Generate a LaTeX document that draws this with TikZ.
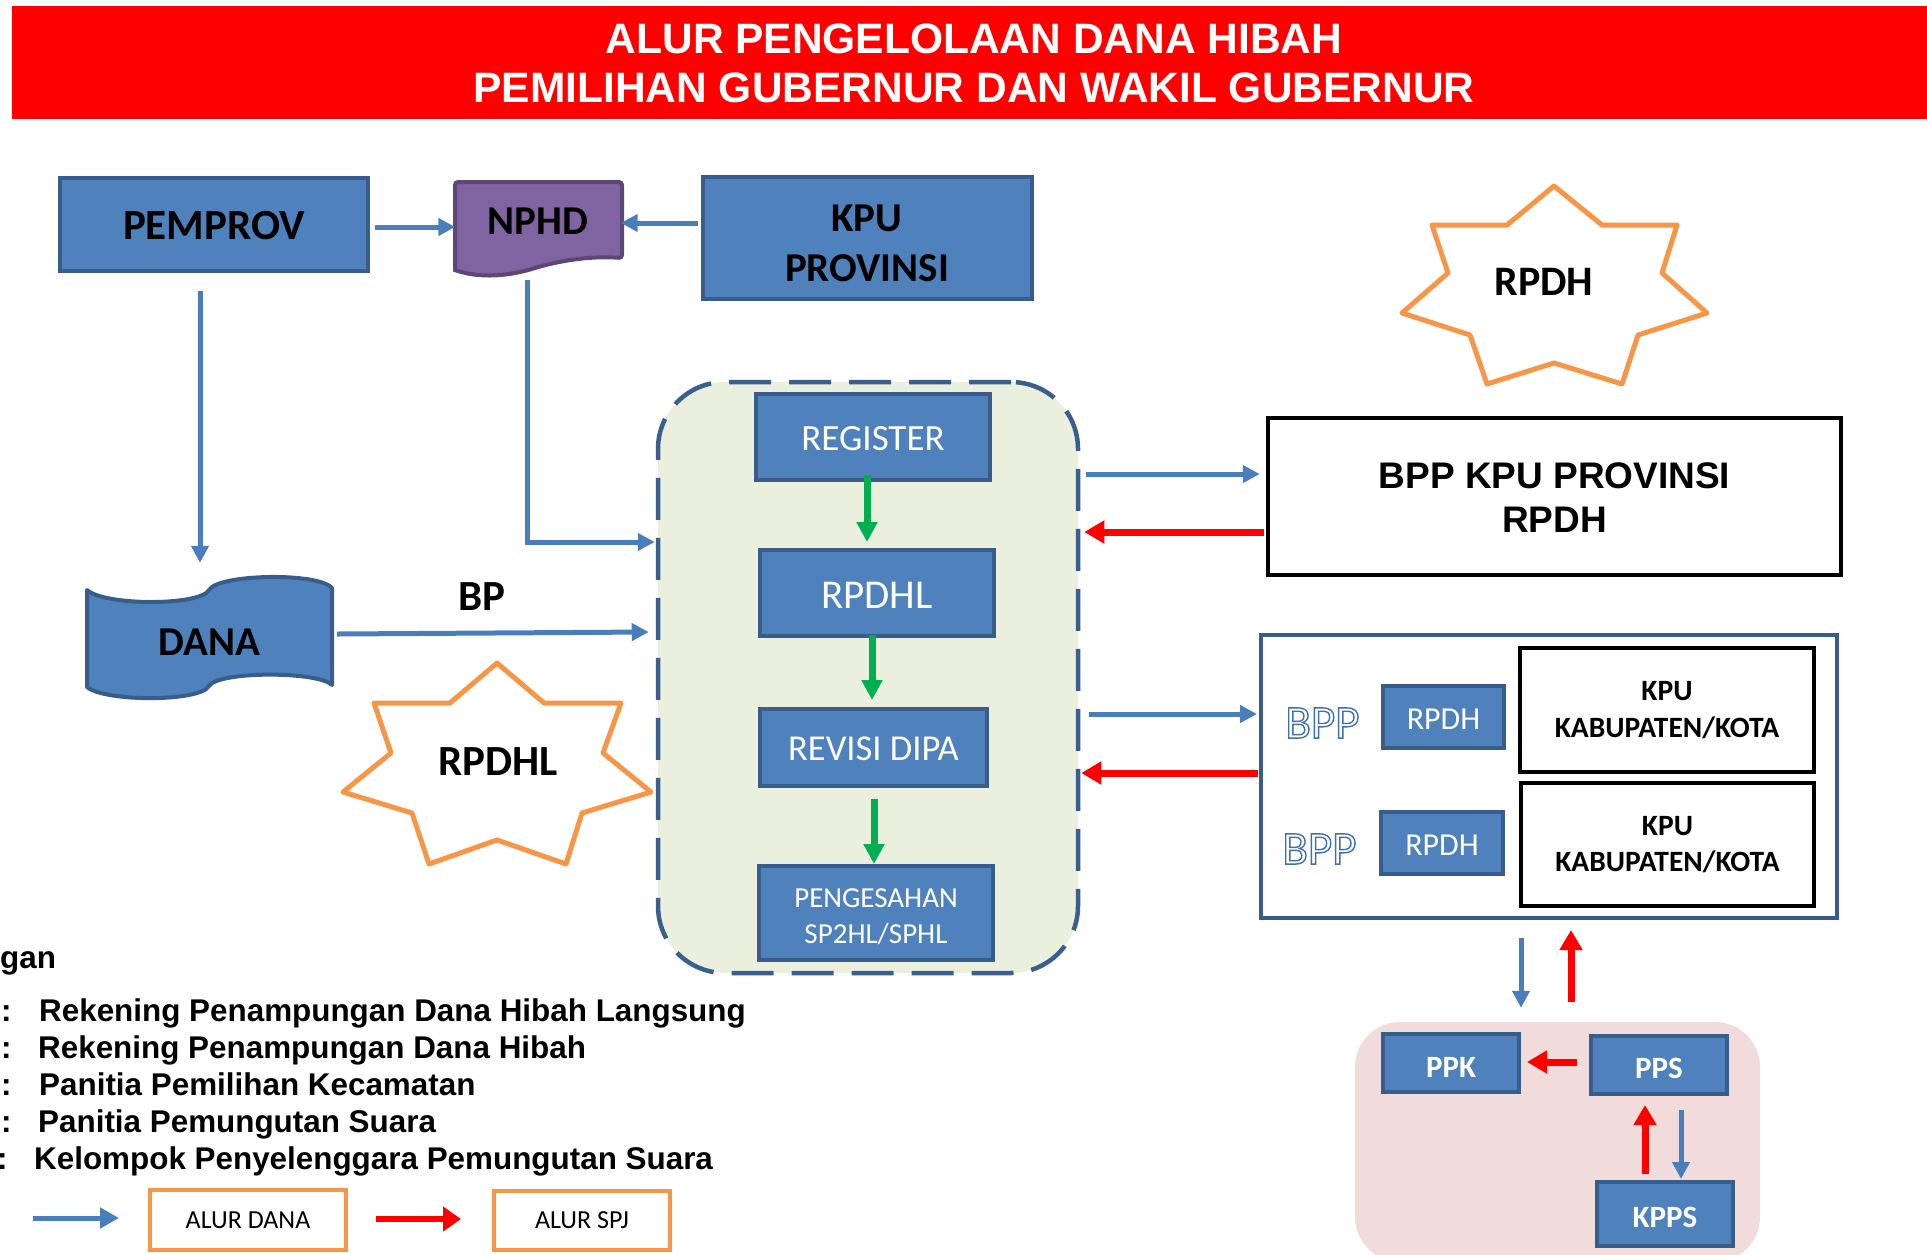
\documentclass[tikz,border=0pt]{standalone}
\usepackage{fontspec}
\setmainfont{Carlito}
\newfontfamily\arialf{Liberation Sans}
\usetikzlibrary{arrows.meta}
\definecolor{bfill}{HTML}{4F81BD}
\definecolor{bdr}{HTML}{385D8A}
\definecolor{arrblue}{HTML}{4A7EBB}
\definecolor{gfill}{HTML}{EBF0DE}
\definecolor{pfill}{HTML}{F2DCDB}
\definecolor{npfill}{HTML}{8064A2}
\definecolor{npdr}{HTML}{5C4776}
\definecolor{orng}{HTML}{F79646}
\definecolor{grn}{HTML}{00B050}
\definecolor{dashc}{HTML}{3A5F8E}
\definecolor{bppc}{HTML}{3F6FAE}
\newcommand\fsz[2]{\fontsize{#1}{#2}\selectfont}
\newcommand\outl[1]{\special{pdf:code 1 Tr 1.4 w}#1\special{pdf:code 0 Tr}}
\begin{document}
\begin{tikzpicture}[x=1pt,y=-1pt,
  bluebox/.style={draw=bdr, fill=bfill, line width=4pt, inner sep=0pt, text=white, align=center},
  blackbox/.style={draw=black, line width=4.5pt, inner sep=0pt, align=center},
  bluearr/.style={draw=arrblue, line width=5pt, -{Triangle[length=17pt,width=17pt]}},
  redarr/.style={draw=red, line width=7pt, -{Triangle[length=20pt,width=22pt]}},
  greenarr/.style={draw=grn, line width=7pt, -{Triangle[length=20pt,width=20pt]}},
  starshape/.style={draw=orng, line width=5pt, line join=round, fill=white},
  orbox/.style={draw=orng, line width=4pt, inner sep=0pt},
  legtxt/.style={anchor=base west, inner sep=0pt, font=\arialf\bfseries\fsz{31.4}{36}}
]
\useasboundingbox (0,0) rectangle (1927,1254);

% title
\node[fill=red, minimum width=1915pt, minimum height=113pt, anchor=north west, inner sep=0pt] (titlebar) at (12,6) {};
\node[text=white, align=center, font=\arialf\bfseries\fsz{42.5}{49}] (title) at (974,63.5)
  {ALUR PENGELOLAAN DANA HIBAH\\PEMILIHAN GUBERNUR DAN WAKIL GUBERNUR};

% top row
\node[bluebox, text=black, minimum width=308pt, minimum height=93pt, text height=31pt, font=\bfseries\fsz{43}{48}] (pem) at (214,224) {PEMPROV};
\node[bluebox, minimum width=329pt, minimum height=122pt] (kpu) at (867,238) {};
\node[align=center, inner sep=0pt, font=\bfseries\fsz{41}{50}] (kputxt) at ([yshift=-5pt]kpu.center) {KPU\\PROVINSI};
\draw[fill=npfill, draw=npdr, line width=4pt, rounded corners=3pt]
  (455,270) -- (455,182) -- (622,182) -- (622,258) [sharp corners]
  .. controls (595,256) and (565,259) .. (535,268)
  .. controls (510,276) and (480,279) .. (455,270) -- cycle;
\node[minimum width=165pt, minimum height=78pt, inner sep=0pt, font=\bfseries\fsz{41}{45}] (nphd) at (538,221) {NPHD};

\draw[bluearr] ([shift={(5pt,-3pt)}]pem.east) -- ([yshift=-6pt]nphd.west);
\draw[bluearr] ([shift={(-2.5pt,15pt)}]kpu.west) -- ([yshift=-2pt]nphd.east);

% DANA
\draw[fill=bfill, draw=bdr, line width=4pt, line join=round]
  (87,590) .. controls (105,606) and (200,606) .. (209,590)
  .. controls (218,574) and (318,572) .. (332,588) -- (332,685)
  .. controls (318,671) and (218,671) .. (209,686)
  .. controls (200,702) and (105,702) .. (87,687) -- cycle;
\node[minimum width=245pt, minimum height=110pt, inner sep=0pt, text height=30pt, font=\bfseries\fsz{41}{45}] (dana) at (209.5,640) {DANA};
\draw[bluearr] ([shift={(-14pt,-18.5pt)}]pem.south) -- ([shift={(-9.5pt,22pt)}]dana.north);

% container
\node[draw=dashc, fill=gfill, line width=4.5pt, dash pattern=on 42pt off 18pt, rounded corners=67pt,
  minimum width=420pt, minimum height=591pt, inner sep=0pt] (cont) at (868,677.5) {};
\node[bluebox, minimum width=234pt, minimum height=86pt, text height=27pt, font=\fsz{37}{40}] (reg) at (873,437) {REGISTER};
\node[bluebox, minimum width=234pt, minimum height=86pt, text height=30pt, font=\fsz{41}{44}] (rpdhl) at (877,593) {RPDHL};
\node[bluebox, minimum width=227pt, minimum height=77pt, text height=27pt, font=\fsz{36.5}{40}] (rev) at (873.5,747.5) {REVISI DIPA};
\node[bluebox, minimum width=234pt, minimum height=94pt, font=\fsz{29}{36}] (peng) at (876,913) {};
\node[align=center, inner sep=0pt, text=white, font=\fsz{29}{36}] (pengtxt) at ([yshift=-4pt]peng.center) {PENGESAHAN\\SP2HL/SPHL};
\draw[greenarr] ([shift={(-6pt,7pt)}]reg.south) -- ([shift={(-10pt,6pt)}]rpdhl.north);
\draw[greenarr] ([shift={(-5pt,3pt)}]rpdhl.south) -- ([shift={(-1.5pt,7pt)}]rev.north);
\draw[greenarr] ([shift={(0.5pt,-11pt)}]rev.south) -- ([xshift=-2pt]peng.north);

\draw[bluearr] ([shift={(-11pt,-20pt)}]nphd.south) |- ([shift={(-1pt,135.5pt)}]cont.west);
\draw[bluearr] ([shift={(5pt,6pt)}]dana.east) -- ([shift={(-7pt,45.5pt)}]cont.west);
\node[font=\bfseries\fsz{43}{46}] (bp) at (482,597) {BP};

% RPDHL star
\draw[starshape] (497,663) -- (544,703) -- (621,703) -- (603,753) -- (651,792) -- (582,813) -- (566,864)
  -- (497,840) -- (429,864) -- (412,813) -- (343,792) -- (391,753) -- (374,703) -- (450,703) -- cycle;
\node[font=\bfseries\fsz{43}{46}] (rpdhlstar) at (498,762) {RPDHL};

% RPDH star
\draw[starshape] (1554,186) -- (1602,225) -- (1677,225) -- (1662,273) -- (1707,313) -- (1638,335) -- (1622,384)
  -- (1554,363) -- (1487,384) -- (1470,335) -- (1402,313) -- (1448,273) -- (1432,225) -- (1507,225) -- cycle;
\node[font=\bfseries\fsz{42}{46}] (rpdhstar) at (1544,282) {RPDH};

% BPP KPU provinsi
\node[blackbox, minimum width=573pt, minimum height=157pt] (bpp) at (1554.5,496.5) {};
\node[align=center, inner sep=0pt, font=\arialf\bfseries\fsz{37}{44}] (bpptxt) at ([yshift=-1pt]bpp.center) {BPP KPU PROVINSI\\RPDH};
\draw[bluearr] ([shift={(6pt,203.5pt)}]cont.east) -- ([shift={(-6pt,22.5pt)}]bpp.west);
\draw[redarr] ([shift={(-2pt,-35.5pt)}]bpp.west) -- ([shift={(4pt,145.5pt)}]cont.east);

% kabupaten group
\node[draw=bdr, line width=4pt, minimum width=576pt, minimum height=283pt, inner sep=0pt] (kab) at (1549,776.5) {};
\node[bluebox, minimum width=121pt, minimum height=62pt, text height=24pt, font=\fsz{32}{34}] (rb1) at (1443.5,717) {RPDH};
\node[bluebox, minimum width=122pt, minimum height=62pt, text height=24pt, font=\fsz{32}{34}] (rb2) at (1442,843) {RPDH};
\node[blackbox, minimum width=294pt, minimum height=124pt, font=\bfseries\fsz{29.5}{37}] (kk1) at (1667,710) {KPU\\KABUPATEN/KOTA};
\node[blackbox, minimum width=293pt, minimum height=123pt, font=\bfseries\fsz{29.5}{36}] (kk2) at (1667.5,844.5) {KPU\\KABUPATEN/KOTA};
\node[text=bppc, inner sep=0pt, font=\fsz{47}{49}] (bppt1) at (1322.5,723) {\outl{BPP}};
\node[text=bppc, inner sep=0pt, font=\fsz{47}{49}] (bppt2) at (1319.5,849) {\outl{BPP}};
\draw[bluearr] ([shift={(9pt,-36.5pt)}]cont.east) -- ([shift={(-2pt,62.5pt)}]kab.west);
\draw[redarr] ([shift={(-1pt,3.5pt)}]kab.west) -- ([shift={(1pt,-95.5pt)}]cont.east);

% pink group
\node[fill=pfill, rounded corners=45pt, minimum width=405pt, minimum height=240pt, inner sep=0pt] (pink) at (1557.5,1142) {};
\node[bluebox, minimum width=136pt, minimum height=58pt, text height=28pt, font=\bfseries\fsz{31}{34}] (ppk) at (1451,1063) {PPK};
\node[bluebox, minimum width=136pt, minimum height=58pt, text height=28pt, font=\bfseries\fsz{31}{34}] (pps) at (1659,1065) {PPS};
\node[bluebox, minimum width=136pt, minimum height=64pt, text height=27pt, font=\bfseries\fsz{31}{34}] (kpps) at (1665,1214) {KPPS};
\draw[bluearr] ([shift={(-28pt,-18pt)}]kab.south) -- ([shift={(-36.5pt,14pt)}]pink.north);
\draw[redarr] ([shift={(13.5pt,20pt)}]pink.north) -- ([shift={(22pt,-10pt)}]kab.south);
\draw[redarr] ([shift={(-12pt,3pt)}]pps.west) -- ([shift={(6pt,1pt)}]ppk.east);
\draw[redarr] ([shift={(-20pt,6pt)}]kpps.north) -- ([shift={(-14pt,-9pt)}]pps.south);
\draw[bluearr] ([shift={(22pt,-14pt)}]pps.south) -- ([shift={(16pt,1pt)}]kpps.north);

% legend
\node[legtxt] (kg) at (0,968) {gan};
\node[legtxt] (c1) at (1,1021) {:};
\node[legtxt] (c2) at (1,1058) {:};
\node[legtxt] (c3) at (1,1095) {:};
\node[legtxt] (c4) at (1,1132) {:};
\node[legtxt] (c5) at (-3,1169) {:};
\node[legtxt] (l1) at (39,1021) {Rekening Penampungan Dana Hibah Langsung};
\node[legtxt] (l2) at (38,1058) {Rekening Penampungan Dana Hibah};
\node[legtxt] (l3) at (39,1095) {Panitia Pemilihan Kecamatan};
\node[legtxt] (l4) at (38,1132) {Panitia Pemungutan Suara};
\node[legtxt] (l5) at (34,1169) {Kelompok Penyelenggara Pemungutan Suara};

\coordinate (la1) at (33,1218);
\coordinate (la2) at (119,1218);
\coordinate (lr1) at (376,1219);
\coordinate (lr2) at (461,1219);
\draw[draw=arrblue, line width=5pt, -{Triangle[length=19pt,width=20pt]}] (la1) -- (la2);
\draw[draw=red, line width=6pt, -{Triangle[length=18pt,width=24pt]}] (lr1) -- (lr2);
\node[orbox, minimum width=196pt, minimum height=60pt, font=\fsz{26}{30}] (ld) at (248,1220) {ALUR DANA};
\node[orbox, minimum width=176pt, minimum height=59pt, font=\fsz{26}{30}] (ls) at (582,1220.5) {ALUR SPJ};
\end{tikzpicture}
\end{document}
